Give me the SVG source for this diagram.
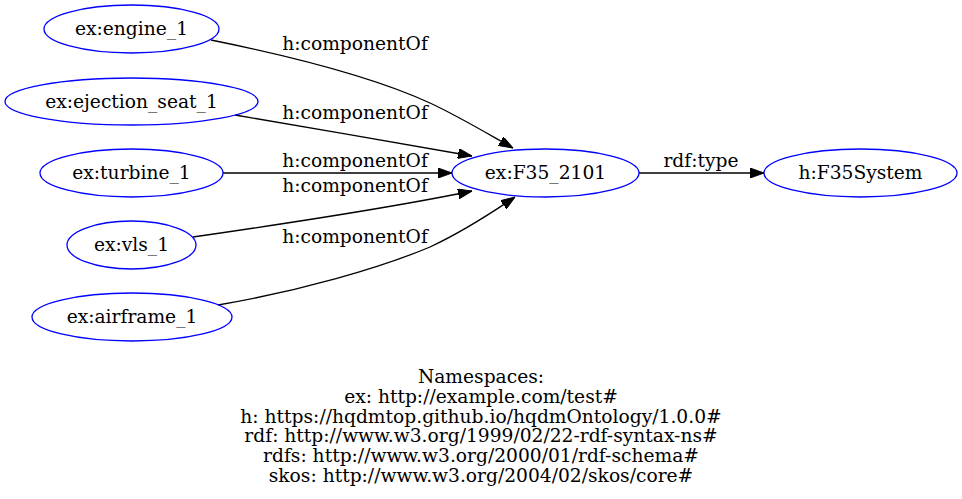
<svg xmlns="http://www.w3.org/2000/svg" width="962" height="499" viewBox="0 0 962 499">
<style>
text{font-family:"DejaVu Serif","Liberation Serif",serif;font-size:18.67px;fill:#000;text-anchor:middle}
.node ellipse{fill:none;stroke:#0000ff;stroke-width:1.3}
.edge path{fill:none;stroke:#000;stroke-width:1.3}
</style>
<defs>
<marker id="arr" viewBox="0 0 14 10" refX="14" refY="5" markerWidth="14" markerHeight="10" markerUnits="userSpaceOnUse" orient="auto">
<path d="M0,0 L14,5 L0,10 Z" fill="#000" stroke="#000"/>
</marker>
</defs>
<rect width="962" height="499" fill="#fff"/>
<g id="edges">
<g class="edge" id="e1"><path d="M211,40 C300,58 380,80 430,103 C460,117 488,134 513,148" marker-end="url(#arr)"/><text x="355" y="50">h:componentOf</text></g>
<g class="edge" id="e2"><path d="M235,115 C310,128 400,143 472,156" marker-end="url(#arr)"/><text x="355" y="119">h:componentOf</text></g>
<g class="edge" id="e3"><path d="M223,173 L452,173" marker-end="url(#arr)"/><text x="355" y="167">h:componentOf</text></g>
<g class="edge" id="e4"><path d="M193,237 C290,223 400,206 472,191" marker-end="url(#arr)"/><text x="355" y="192">h:componentOf</text></g>
<g class="edge" id="e5"><path d="M218,305 C300,291 380,268 430,247 C460,233 490,214 515,197" marker-end="url(#arr)"/><text x="355" y="243">h:componentOf</text></g>
<g class="edge" id="e6"><path d="M639,173 L764,173" marker-end="url(#arr)"/><text x="701" y="167">rdf:type</text></g>
</g>
<g class="node" id="n_engine"><ellipse cx="131.5" cy="29" rx="87.5" ry="24"/><text x="131.5" y="35">ex:engine_1</text></g>
<g class="node" id="n_ejection"><ellipse cx="131.5" cy="101.5" rx="126.5" ry="23.5"/><text x="131.5" y="107.5">ex:ejection_seat_1</text></g>
<g class="node" id="n_turbine"><ellipse cx="131.5" cy="173" rx="91.5" ry="24"/><text x="131.5" y="179">ex:turbine_1</text></g>
<g class="node" id="n_vls"><ellipse cx="131.5" cy="245" rx="64.5" ry="24"/><text x="131.5" y="251">ex:vls_1</text></g>
<g class="node" id="n_airframe"><ellipse cx="132" cy="317" rx="100" ry="24"/><text x="132" y="323">ex:airframe_1</text></g>
<g class="node" id="n_f35"><ellipse cx="545.5" cy="173" rx="93.5" ry="24"/><text x="545.5" y="179">ex:F35_2101</text></g>
<g class="node" id="n_sys"><ellipse cx="860.5" cy="173" rx="96.5" ry="24"/><text x="860.5" y="179">h:F35System</text></g>
<g id="namespaces">
<text x="481" y="383">Namespaces:</text>
<text x="481" y="402.8">ex: http://example.com/test#</text>
<text x="481" y="422.6">h: https://hqdmtop.github.io/hqdmOntology/1.0.0#</text>
<text x="481" y="442.4">rdf: http://www.w3.org/1999/02/22-rdf-syntax-ns#</text>
<text x="481" y="462.2">rdfs: http://www.w3.org/2000/01/rdf-schema#</text>
<text x="481" y="482">skos: http://www.w3.org/2004/02/skos/core#</text>
</g>
</svg>
